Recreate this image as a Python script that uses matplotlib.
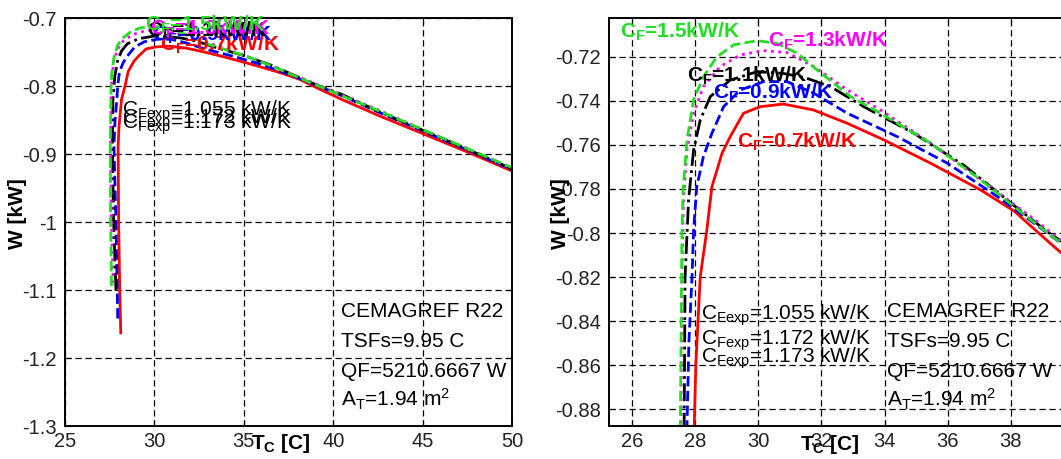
import matplotlib
matplotlib.use("Agg")
import matplotlib.pyplot as plt
import matplotlib.ticker as ticker

# ── curve data: condenser temperature T_C [C] vs W [kW] ──
cf_labels = ['0.7', '0.9', '1.1', '1.3', '1.5']

t_07 = [28.12, 28.06, 28.0, 27.97, 28.02, 28.16, 28.37, 28.53, 28.85, 29.11, 29.53, 30.06, 30.8,
        31.75, 32.81, 33.98, 35.46, 37.05, 38.1, 39.35, 40.5, 42.5, 45.0, 47.5, 50.0]
w_07 = [-1.163, -1.10, -1.00, -0.888, -0.86, -0.82, -0.7986, -0.779, -0.7638, -0.7562, -0.7456,
        -0.7426, -0.7414, -0.7441, -0.7501, -0.7577, -0.7683, -0.7805, -0.790, -0.806, -0.820,
        -0.843, -0.870, -0.897, -0.925]

t_09 = [27.95, 27.85, 27.74, 27.8, 27.9, 27.95, 28.05, 28.26, 28.53, 28.9, 29.43, 30.17, 30.91,
        31.76, 32.82, 34.4, 35.99, 37.58, 39.16, 40.5, 42.5, 45.0, 47.5, 50.0]
w_09 = [-1.142, -1.0, -0.888, -0.85, -0.82, -0.7986, -0.779, -0.7653, -0.7547, -0.7426, -0.735,
        -0.7312, -0.7312, -0.7365, -0.7456, -0.7562, -0.7683, -0.7835, -0.80, -0.8145, -0.838,
        -0.866, -0.894, -0.923]

t_11 = [27.85, 27.72, 27.65, 27.68, 27.79, 27.95, 28.16, 28.48, 29.11, 29.96, 30.8, 31.5, 32.29,
        33.34, 34.93, 36.52, 38.1, 39.16, 40.5, 42.5, 45.0, 47.5, 50.0]
w_11 = [-1.101, -1.0, -0.888, -0.82, -0.785, -0.7623, -0.7486, -0.738, -0.7305, -0.7267, -0.7275,
        -0.7295, -0.7335, -0.7426, -0.7547, -0.7693, -0.7875, -0.7995, -0.8125, -0.837, -0.865,
        -0.893, -0.922]

t_13 = [27.7, 27.6, 27.55, 27.58, 27.63, 27.74, 27.95, 28.26, 28.79, 29.43, 30.17, 30.91, 31.76,
        32.82, 33.87, 35.46, 37.05, 38.63, 40.0, 42.5, 45.0, 47.5, 50.0]
w_13 = [-1.09, -1.0, -0.888, -0.82, -0.785, -0.7623, -0.7456, -0.7335, -0.7244, -0.7191, -0.7171,
        -0.718, -0.7244, -0.735, -0.7441, -0.7592, -0.7759, -0.7926, -0.808, -0.835, -0.864,
        -0.892, -0.921]

t_15 = [27.6, 27.55, 27.53, 27.58, 27.62, 27.74, 27.95, 28.26, 28.69, 29.22, 29.96, 30.59, 31.23,
        31.86, 32.92, 33.87, 35.46, 37.05, 38.63, 40.0, 42.5, 45.0, 47.5, 50.0]
w_15 = [-1.094, -1.0, -0.888, -0.8, -0.78, -0.7577, -0.7395, -0.729, -0.7199, -0.7145, -0.7126,
        -0.7138, -0.7183, -0.7259, -0.738, -0.7456, -0.7592, -0.7759, -0.794, -0.809, -0.836,
        -0.864, -0.892, -0.920]

cfexp_labels = ['1.055', '1.172', '1.173']
info_lines = ['CEMAGREF R22', 'TSFs=9.95 C', 'QF=5210.6667 W', r'A$_\mathrm{T}$=1.94 m$^\mathrm{2}$']

curves = [(t_07, w_07, 'red', '-'),
          (t_09, w_09, 'blue', '--'),
          (t_11, w_11, 'black', '-.'),
          (t_13, w_13, 'magenta', ':'),
          (t_15, w_15, '#22dd22', '--')]
label_colors = ['red', 'blue', 'black', 'magenta', '#22dd22']

plt.rcParams.update({
    'font.family': 'Liberation Sans',
    'mathtext.fontset': 'custom',
    'mathtext.rm': 'Liberation Sans',
    'mathtext.it': 'Liberation Sans:italic',
    'mathtext.bf': 'Liberation Sans:bold',
})

fig = plt.figure(figsize=(10.61, 4.59), dpi=100, facecolor='white')
W, H = 1061, 459
ax1 = fig.add_axes([65 / W, 33 / H, 447 / W, 408 / H])
ax2 = fig.add_axes([609 / W, 33 / H, 465 / W, 408 / H])


def style(ax):
    for t, w, c, ls in curves:
        ax.plot(t, w, color=c, linestyle=ls, linewidth=2)
    ax.grid(True, color='black', linestyle=(0, (5, 3)), linewidth=0.9)
    ax.yaxis.set_major_formatter(ticker.FormatStrFormatter('%g'))
    ax.xaxis.set_major_formatter(ticker.FormatStrFormatter('%g'))
    ax.tick_params(direction='in', length=4, top=True, right=True, labelsize=14.5,
                   colors='black', labelcolor='#222222')
    ax.tick_params(axis='y', pad=6)
    ax.tick_params(axis='x', pad=4)
    for sp in ax.spines.values():
        sp.set_linewidth(1.4)
    ax.set_xlabel(r'T$_\mathbf{C}$ [C]', fontsize=15, fontweight='bold')
    ax.set_ylabel('W [kW]', fontsize=15, fontweight='bold')


# ── left panel: full range ──
style(ax1)
ax1.set_xlim(25, 50)
ax1.set_ylim(-1.3, -0.7)
ax1.xaxis.set_major_locator(ticker.MultipleLocator(5))
ax1.yaxis.set_major_locator(ticker.MultipleLocator(0.1))
ax1.xaxis.set_label_coords(0.484, -0.015)
ax1.yaxis.set_label_coords(-0.085, 0.52)

left_pos = [(30.3, -0.7474), (29.87, -0.734), (29.6, -0.728), (29.75, -0.724), (29.47, -0.718)]
for cf, col, (tx, wy) in zip(cf_labels, label_colors, left_pos):
    ax1.text(tx, wy, r'C$_\mathbf{F}$=' + cf + 'kW/K', color=col, fontsize=15,
             fontweight='bold', va='baseline')

# ── right panel: zoom on the maximum ──
style(ax2)
ax2.set_xlim(25.27, 40)
ax2.set_ylim(-0.8877, -0.7023)
ax2.xaxis.set_major_locator(ticker.MultipleLocator(2))
ax2.yaxis.set_major_locator(ticker.MultipleLocator(0.02))
ax2.xaxis.set_label_coords(0.475, -0.017)
ax2.yaxis.set_label_coords(-0.084, 0.52)

right_pos = [(29.33, -0.7614), (28.57, -0.7388), (27.75, -0.7314), (30.32, -0.7155), (25.62, -0.7114)]
for cf, col, (tx, wy) in zip(cf_labels, label_colors, right_pos):
    ax2.text(tx, wy, r'C$_\mathbf{F}$=' + cf + 'kW/K', color=col, fontsize=15,
             fontweight='bold', va='baseline')

# experimental C_F labels (same data coords on both panels)
cfexp_w = [-0.8373, -0.8486, -0.8568]
for ax in (ax1, ax2):
    for lab, wy in zip(cfexp_labels, cfexp_w):
        ax.text(28.2, wy, r'C$_\mathrm{Fexp}$=' + lab + ' kW/K', color='black',
                fontsize=15, va='center', clip_on=False)

# info block
info_y = [0.267, 0.194, 0.120, 0.049]
for ax, xx in ((ax1, 0.617), (ax2, 0.598)):
    for line, yy in zip(info_lines, info_y):
        ax.text(xx, yy, line, transform=ax.transAxes, fontsize=15, va='baseline',
                color='black')

plt.savefig('out.png', dpi=100, facecolor='white')
